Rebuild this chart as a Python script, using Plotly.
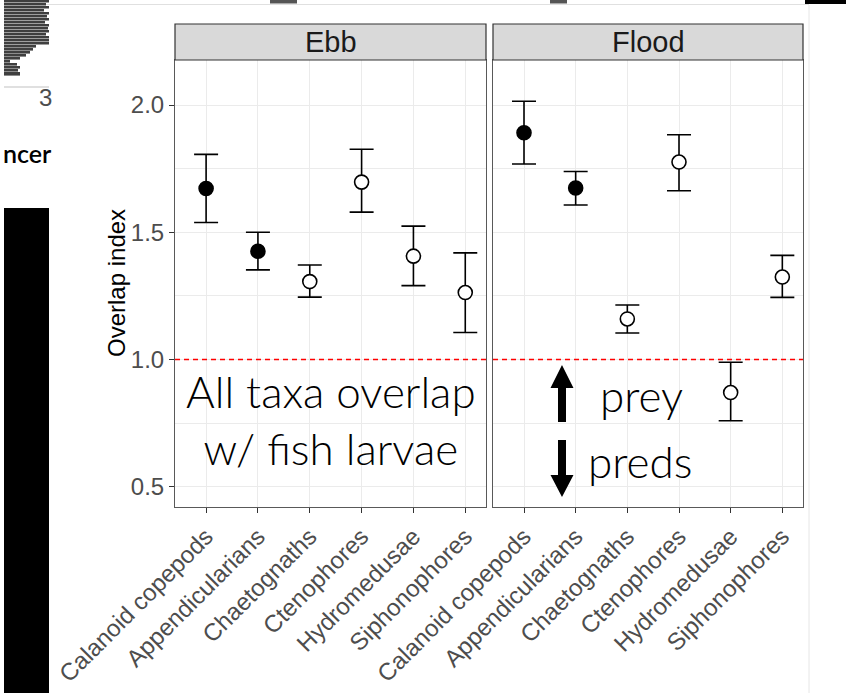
import plotly.graph_objects as go

# Overlap index (mean with 95% CI) of each zooplankton taxon with fish larvae
taxa = ["Calanoid copepods", "Appendicularians", "Chaetognaths",
        "Ctenophores", "Hydromedusae", "Siphonophores"]
tide_panels = ["Ebb", "Flood"]

ebb_mean = [1.672, 1.425, 1.306, 1.697, 1.406, 1.263]
ebb_lower = [1.538, 1.352, 1.245, 1.579, 1.290, 1.106]
ebb_upper = [1.806, 1.500, 1.371, 1.826, 1.524, 1.419]
ebb_signif = [True, True, False, False, False, False]

flood_mean = [1.891, 1.674, 1.159, 1.776, 0.870, 1.324]
flood_lower = [1.768, 1.607, 1.104, 1.663, 0.759, 1.244]
flood_upper = [2.015, 1.739, 1.214, 1.883, 0.989, 1.409]
flood_signif = [True, True, False, False, False, False]

y_ticks = [0.5, 1.0, 1.5, 2.0]
y_tick_labels = ["0.5", "1.0", "1.5", "2.0"]
reference_level = 1.0

W, H = 846, 693
ML, MR, MT, MB = 175, 43, 60, 186
PW, PH = W - ML - MR, H - MT - MB


def px(x):
    return (x - ML) / PW


def py(y):
    return (H - MB - y) / PH


SANS = "Liberation Sans, Arial, sans-serif"
TICK_FONT = dict(family=SANS, size=24, color="#4D4D4D")
GRID = "#EBEBEB"
BORDER = "#595959"

fig = go.Figure()

panels = [
    ("x", "y", ebb_mean, ebb_lower, ebb_upper, ebb_signif),
    ("x2", "y2", flood_mean, flood_lower, flood_upper, flood_signif),
]
for xa, ya, mean, lo, hi, sig in panels:
    fig.add_trace(go.Scatter(
        x=taxa, y=mean, xaxis=xa, yaxis=ya, mode="markers",
        error_y=dict(type="data", symmetric=False,
                     array=[h - m for h, m in zip(hi, mean)],
                     arrayminus=[m - l for m, l in zip(mean, lo)],
                     color="black", thickness=1.6, width=12),
        marker=dict(size=14, color=["black" if s else "white" for s in sig],
                    line=dict(color="black", width=1.6)),
        showlegend=False, cliponaxis=False,
    ))

ebb_dom = [0, px(486)]
flood_dom = [px(493), 1]
x_common = dict(type="category", range=[-0.6, 5.4], showgrid=True, gridcolor=GRID,
                gridwidth=1, showline=True, mirror=True, linecolor=BORDER, linewidth=1,
                ticks="outside", ticklen=5, tickcolor="#333333", tickangle=-45,
                tickfont=dict(family=SANS, size=24, color="#4D4D4D"),
                zeroline=False, fixedrange=True, automargin=False)
y_common = dict(range=[0.420, 2.177], tickvals=y_ticks, ticktext=y_tick_labels,
                showgrid=True, gridcolor=GRID, gridwidth=1,
                minor=dict(tickvals=[0.75, 1.25, 1.75], showgrid=True,
                           gridcolor=GRID, gridwidth=1, ticks=""),
                showline=True, mirror=True, linecolor=BORDER, linewidth=1,
                zeroline=False, fixedrange=True, automargin=False)

fig.update_layout(
    width=W, height=H,
    margin=dict(l=ML, r=MR, t=MT, b=MB, autoexpand=False),
    paper_bgcolor="white", plot_bgcolor="white",
    xaxis=dict(domain=ebb_dom, anchor="y", **x_common),
    xaxis2=dict(domain=flood_dom, anchor="y2", **x_common),
    yaxis=dict(anchor="x", ticks="outside", ticklen=5, tickcolor="#333333",
               tickfont=TICK_FONT, **y_common),
    yaxis2=dict(anchor="x2", matches="y", showticklabels=False, ticks="", **y_common),
)

# Dashed reference line at overlap index = 1 in each panel
for xa, ya in [("x", "y"), ("x2", "y2")]:
    fig.add_shape(type="line", xref=f"{xa} domain", yref=ya, x0=0, x1=1,
                  y0=reference_level, y1=reference_level,
                  line=dict(color="#FF0000", width=1.5, dash="5px,4px"))

# Facet strips
strip_top = py(24)
for dom, label in zip([ebb_dom, flood_dom], tide_panels):
    fig.add_shape(type="rect", xref="paper", yref="paper", x0=dom[0], x1=dom[1],
                  y0=1, y1=strip_top, fillcolor="#D9D9D9",
                  line=dict(color="#333333", width=1.2))
    fig.add_annotation(xref="paper", yref="paper", x=(dom[0] + dom[1]) / 2,
                       y=(1 + strip_top) / 2, text=label, showarrow=False,
                       font=dict(family=SANS, size=29, color="#1A1A1A"),
                       xanchor="center", yanchor="middle")

# Y axis title
fig.add_annotation(xref="paper", yref="paper", x=px(116), y=py(283),
                   text="Overlap index", textangle=-90, showarrow=False,
                   font=dict(family=SANS, size=24, color="black"),
                   xanchor="center", yanchor="middle")

# Slide-style callouts
CALLOUT = dict(family="Lato, Open Sans, sans-serif", size=44, color="black", weight=300)
fig.add_annotation(xref="paper", yref="paper", x=px(331), y=py(419),
                   text="All taxa overlap<br>w/ fish larvae", showarrow=False,
                   font=CALLOUT, align="center", xanchor="center", yanchor="middle")
fig.add_annotation(xref="paper", yref="paper", x=px(641), y=py(395),
                   text="prey", showarrow=False, font=CALLOUT,
                   xanchor="center", yanchor="middle")
fig.add_annotation(xref="paper", yref="paper", x=px(640), y=py(461),
                   text="preds", showarrow=False, font=CALLOUT,
                   xanchor="center", yanchor="middle")


def arrow_path(cx, tail, head_base, tip, half_head=11.5, half_shaft=4):
    pts = [(cx - half_shaft, tail), (cx - half_shaft, head_base),
           (cx - half_head, head_base), (cx, tip), (cx + half_head, head_base),
           (cx + half_shaft, head_base), (cx + half_shaft, tail)]
    return "M " + " L ".join(f"{px(x):.5f},{py(y):.5f}" for x, y in pts) + " Z"


fig.add_shape(type="path", xref="paper", yref="paper",
              path=arrow_path(562, 422, 388, 365), fillcolor="black",
              line=dict(color="black", width=0))
fig.add_shape(type="path", xref="paper", yref="paper",
              path=arrow_path(562, 440, 475, 497), fillcolor="black",
              line=dict(color="black", width=0))

# Edges of the neighbouring slide content
fig.add_shape(type="rect", xref="paper", yref="paper", x0=px(4), x1=px(49),
              y0=py(208), y1=py(693), fillcolor="black", line=dict(width=0), layer="below")
fig.add_shape(type="rect", xref="paper", yref="paper", x0=px(805), x1=px(846),
              y0=py(0), y1=py(4), fillcolor="black", line=dict(width=0), layer="below")
fig.add_shape(type="line", xref="paper", yref="paper", x0=px(809), x1=px(809),
              y0=py(5), y1=py(693), line=dict(color="#E6E6E6", width=1), layer="below")
fig.add_shape(type="line", xref="paper", yref="paper", x0=px(37), x1=px(809),
              y0=py(4.5), y1=py(4.5), line=dict(color="#E0E0E0", width=1), layer="below")
side_bar_rows = [(0, 2, 49), (3, 5, 46), (6, 8, 49), (9, 11, 44), (12, 14, 49),
                 (15, 17, 47), (18, 20, 49), (21, 23, 45), (24, 26, 49), (27, 29, 48),
                 (30, 32, 49), (33, 35, 46), (36, 38, 49), (39, 41, 49), (42, 44, 49),
                 (45, 47, 36), (48, 50, 33), (51, 53, 30), (54, 56, 26),
                 (57, 59, 20), (60, 62, 10), (63, 65, 17), (66, 68, 20),
                 (69, 71, 18), (72, 75, 20)]
for y0, y1, right in side_bar_rows:
    fig.add_shape(type="rect", xref="paper", yref="paper", x0=px(4), x1=px(right),
                  y0=py(y0), y1=py(y1 + 0.6), fillcolor="#3F3F3F", line=dict(width=0),
                  layer="below")
for x0, x1 in [(270, 297), (550, 567)]:
    fig.add_shape(type="rect", xref="paper", yref="paper", x0=px(x0), x1=px(x1),
                  y0=py(0), y1=py(3.5), fillcolor="#555555", line=dict(width=0),
                  layer="below")
fig.add_shape(type="line", xref="paper", yref="paper", x0=px(4), x1=px(49),
              y0=py(87), y1=py(87), line=dict(color="#E0E0E0", width=2), layer="below")
fig.add_annotation(xref="paper", yref="paper", x=px(54), y=py(98), text="3",
                   showarrow=False, xanchor="right", yanchor="middle",
                   font=dict(family=SANS, size=24, color="#4D4D4D"))
fig.add_annotation(xref="paper", yref="paper", x=px(1), y=py(153), text="ncer",
                   showarrow=False, xanchor="left", yanchor="middle",
                   font=dict(family="Lato, Open Sans, sans-serif", size=25,
                             color="black", weight=600))

fig.write_html("out.html")
